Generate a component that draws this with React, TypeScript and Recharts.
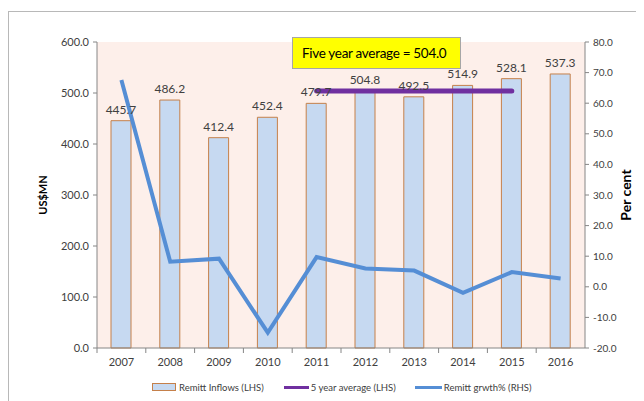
import { ComposedChart, Bar, Line, XAxis, YAxis, CartesianGrid, LabelList, Label, Legend } from 'recharts'

const years = ['2007', '2008', '2009', '2010', '2011', '2012', '2013', '2014', '2015', '2016']
const inflows = [445.7, 486.2, 412.4, 452.4, 479.7, 504.8, 492.5, 514.9, 528.1, 537.3]
const fiveYearAvg = [null, null, null, null, 504.0, 504.0, 504.0, 504.0, 504.0, null]
const growth = [67.6, 8.2, 9.2, -15.0, 9.7, 6.0, 5.3, -2.0, 4.8, 2.7]

const leftTicks = [0, 100, 200, 300, 400, 500, 600]
const rightTicks = [-20, -10, 0, 10, 20, 30, 40, 50, 60, 70, 80]

const seriesNames = ['Remitt Inflows (LHS)', '5 year average (LHS)', 'Remitt grwth% (RHS)']

const data = years.map((y, i) => ({
  year: y,
  inflows: inflows[i],
  avg: fiveYearAvg[i],
  growth: growth[i],
}))

const FONT = 'Lato, "Open Sans", sans-serif'
const TEXT = '#404040'
const AXIS = '#868686'
const BAND = 48.8

function XTick(props: any) {
  const { x, y, payload } = props
  return (
    <g>
      <line x1={x - BAND / 2} y1={y - 14} x2={x - BAND / 2} y2={y - 9} stroke={AXIS} />
      <text x={x} y={y} dy="0.35em" textAnchor="middle" fontSize={11} fill={TEXT} fontFamily={FONT}>
        {payload.value}
      </text>
    </g>
  )
}

function LegendBox() {
  return (
    <div style={{ display: 'flex', alignItems: 'center', height: 28, paddingLeft: 144, fontFamily: FONT, fontSize: 9.5, color: TEXT }}>
      <span style={{ display: 'inline-block', width: 22, height: 6, background: '#c6d9f1', border: '1px solid #c5804a', marginRight: 3 }} />
      <span style={{ marginRight: 20 }}>{seriesNames[0]}</span>
      <span style={{ display: 'inline-block', width: 25, height: 3, background: '#7030a0', marginRight: 2 }} />
      <span style={{ marginRight: 19 }}>{seriesNames[1]}</span>
      <span style={{ display: 'inline-block', width: 27, height: 3, background: '#558ed5', marginRight: 2 }} />
      <span>{seriesNames[2]}</span>
    </div>
  )
}

export default function App() {
  return (
    <div style={{ position: 'relative', width: 636, height: 393 }}>
      <div style={{ position: 'absolute', left: 0, top: 3, width: 640, height: 400, border: '1px solid #b8b8b8', boxSizing: 'border-box' }} />
      <ComposedChart
        width={636}
        height={393}
        data={data}
        margin={{ top: 34, right: 0, bottom: 0, left: 0 }}
        style={{ position: 'absolute', left: 0, top: 0 }}
      >
        <CartesianGrid fill="#fdefea" stroke="none" horizontal={false} vertical={false} />
        <XAxis
          dataKey="year"
          height={25}
          tickSize={5}
          tickMargin={9}
          tickLine={false}
          tick={<XTick />}
          axisLine={{ stroke: AXIS }}
          interval={0}
        />
        <YAxis
          yAxisId="left"
          width={89}
          domain={[0, 600]}
          ticks={leftTicks}
          tickFormatter={(v: number) => v.toFixed(1)}
          tick={{ fontSize: 11, fill: TEXT, fontFamily: FONT }}
          tickSize={4}
          tickMargin={4}
          tickLine={{ stroke: AXIS }}
          axisLine={{ stroke: AXIS }}
        >
          <Label value="US$MN" angle={-90} position="center" dx={-9} fontSize={11} fontWeight="bold" fill="#000" fontFamily={FONT} />
        </YAxis>
        <YAxis
          yAxisId="right"
          orientation="right"
          width={59}
          domain={[-20, 80]}
          ticks={rightTicks}
          tickFormatter={(v: number) => v.toFixed(1)}
          tick={{ fontSize: 10, fill: TEXT, fontFamily: FONT, textAnchor: 'start' }}
          tickSize={4}
          tickMargin={4}
          tickLine={{ stroke: AXIS }}
          axisLine={{ stroke: AXIS }}
        >
          <Label value="Per cent" angle={-90} position="center" dx={12} fontSize={14} fontWeight="bold" fill="#000" fontFamily={FONT} />
        </YAxis>
        <Legend verticalAlign="bottom" height={28} content={<LegendBox />} />
        <Bar yAxisId="left" dataKey="inflows" name={seriesNames[0]} barSize={20} fill="#c6d9f1" stroke="#c5804a" strokeWidth={1} isAnimationActive={false}>
          <LabelList dataKey="inflows" position="top" offset={7} fontSize={12} fill={TEXT} fontFamily={FONT} formatter={(v: any) => Number(v).toFixed(1)} />
        </Bar>
        <Line yAxisId="left" dataKey="avg" name={seriesNames[1]} stroke="#7030a0" strokeWidth={5} dot={false} strokeLinecap="round" connectNulls={false} isAnimationActive={false} />
        <Line yAxisId="right" dataKey="growth" name={seriesNames[2]} type="linear" stroke="#558ed5" strokeWidth={4} dot={false} isAnimationActive={false} />
      </ComposedChart>
      <div
        style={{
          position: 'absolute',
          left: 284,
          top: 29,
          width: 169,
          height: 32,
          boxSizing: 'border-box',
          background: '#ffff00',
          border: '1px solid #a6a6a6',
          fontFamily: FONT,
          fontSize: 13.5,
          letterSpacing: -0.3,
          whiteSpace: 'nowrap',
          color: '#000',
          display: 'flex',
          alignItems: 'center',
          paddingLeft: 9,
        }}
      >
        Five year average = 504.0
      </div>
    </div>
  )
}
